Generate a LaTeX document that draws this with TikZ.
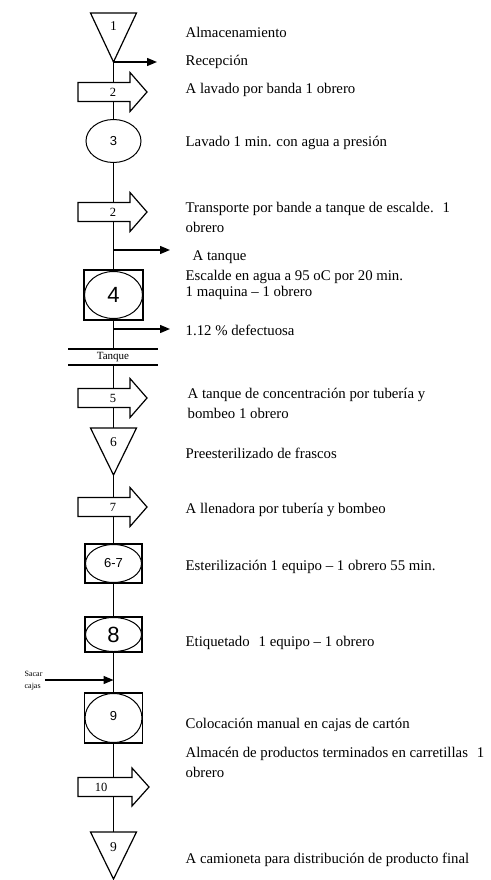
\documentclass[tikz,border=0pt]{standalone}
\usepackage{fontspec}
\setmainfont{Liberation Serif}
\setsansfont{Liberation Sans}
\usetikzlibrary{arrows.meta,shapes.geometric,backgrounds}
\newcommand{\flowarr}[3]{%
  \draw[shp] (78,#2-9.5) -- (130,#2-9.5) -- (130,#2-19.5) -- (147,#2) -- (130,#2+19.5) -- (130,#2+9.5) -- (78,#2+9.5) -- cycle;
  \node[num] (#1) at (113,#2) {#3};}
\begin{document}
\begin{tikzpicture}[x=1pt,y=-1pt,line width=1.3pt,
  shp/.style={draw,fill=white,line width=1.2pt},
  txt/.style={anchor=west,inner sep=0pt,font=\fontsize{14.8}{20}\selectfont,align=left},
  txtb/.style={anchor=west,inner sep=0pt,font=\fontsize{14.8}{16}\selectfont,align=left},
  num/.style={inner sep=0pt,font=\fontsize{12.5}{14}\selectfont},
  bignum/.style={inner sep=0pt,font=\sffamily\fontsize{22}{24}\selectfont},
  midnum/.style={inner sep=0pt,font=\sffamily\fontsize{13}{16}\selectfont},
  oval/.style={ellipse,draw,fill=white,inner sep=0pt,line width=1pt},
  boxx/.style={rectangle,draw,fill=white,inner sep=0pt,line width=1.2pt},
  link/.style={draw,line width=1.4pt},
  tip/.style={line width=1.4pt,-{Triangle[length=10pt,width=8pt]}}]
\useasboundingbox (0,0) rectangle (490,880);

% ---------- shapes ----------
% triangle 1
\draw[shp] (90.5,13) -- (136.5,13) -- (113.5,62) -- cycle;
\node[num,font=\fontsize{13.5}{14}\selectfont] (n1) at (113.5,26) {1};
\coordinate (t1) at (113.5,62);
\coordinate (r1) at (157,62);

% arrow 2
\flowarr{a2}{92}{2}

% circle 3
\node[oval,minimum width=55pt,minimum height=43pt] (c3) at (113.5,141) {};
\node[midnum] (n3) at (113.5,141) {3};

% arrow 2 (second)
\flowarr{a2b}{212}{2}

\coordinate (j1) at (113.5,250);
\coordinate (r2) at (170,250);

% box 4
\node[boxx,minimum width=59pt,minimum height=50pt] (b4) at (113.5,295) {};
\node[oval,minimum width=58pt,minimum height=47pt] (e4) at (113.5,295) {};
\node[bignum] (n4) at (113.5,295) {4};

\coordinate (j2) at (113.5,329);
\coordinate (r3) at (170,329);

% tanque
\coordinate (tq1) at (113.5,349);
\coordinate (tq2) at (113.5,365);
\draw (68,349) -- (158,349);
\draw (68,365) -- (158,365);
\node[inner sep=0pt,font=\fontsize{11}{12}\selectfont] (tq) at (113,357) {Tanque};

% arrow 5
\flowarr{a5}{398}{5}

% triangle 6
\draw[shp] (90.5,428) -- (136.5,428) -- (113.5,475) -- cycle;
\node[num,font=\fontsize{13.5}{14}\selectfont] (n6) at (113.5,442) {6};
\coordinate (t6a) at (113.5,428);
\coordinate (t6b) at (113.5,475);

% arrow 7
\flowarr{a7}{507}{7}

% box 6-7
\node[boxx,minimum width=57pt,minimum height=39pt] (b67) at (113.5,563.5) {};
\node[oval,minimum width=56pt,minimum height=38pt] (e67) at (113.5,563.5) {};
\node[midnum] (n67) at (113.5,563.5) {6-7};

% box 8
\node[boxx,minimum width=57pt,minimum height=35pt] (b8) at (113.5,634.5) {};
\node[oval,minimum width=56pt,minimum height=34pt] (e8) at (113.5,634.5) {};
\node[bignum] (n8) at (113.5,634.5) {8};

% sacar cajas
\node[anchor=west,inner sep=0pt,align=left,font=\fontsize{8}{12}\selectfont] (sac) at (24,681) {Sacar\\cajas};
\coordinate (s0) at (45,680);
\coordinate (j3) at (113.5,680);

% box 9
\node[boxx,minimum width=58pt,minimum height=50pt] (b9) at (113.5,718) {};
\node[oval,minimum width=57pt,minimum height=49pt] (e9) at (113.5,718) {};
\node[midnum] (n9) at (113.5,716) {9};

% arrow 10
\draw[shp] (78,777.5) -- (132,777.5) -- (132,768) -- (149,787) -- (132,806) -- (132,796.5) -- (78,796.5) -- cycle;
\node[num] (a10) at (101,787) {10};

% triangle 9
\draw[shp] (90.5,832) -- (136.5,832) -- (113.5,879) -- cycle;
\node[num,font=\fontsize{13.5}{14}\selectfont] (n9b) at (113.5,847) {9};
\coordinate (t9) at (113.5,832);

% ---------- connectors ----------
\begin{scope}[on background layer]
\draw[link] (t1) -- (c3.north);
\draw[link] (c3.south) -- (b4.north);
\draw[link] (b4.south) -- (tq1);
\draw[link] (tq2) -- (t6a);
\draw[link] (t6b) -- (b67.north);
\draw[link] (b67.south) -- (b8.north);
\draw[link] (b8.south) -- (b9.north);
\draw[link] (b9.south) -- (t9);
\end{scope}
\draw[tip] (t1) -- (r1);
\draw[tip] (j1) -- (r2);
\draw[tip] (j2) -- (r3);
\draw[tip] (s0) -- (j3);

% ---------- texts ----------
\node[txt] (l1) at (185,32) {Almacenamiento};
\node[txt] (l2) at (185,62) {Recepción};
\node[txt] (l3) at (185,90) {A lavado por banda 1 obrero};
\node[txt] (l4) at (185,143) {Lavado 1 min. con agua a presión};
\node[txt] (l5) at (185,217) {Transporte por bande a tanque de escalde.\hspace{0.6em}1\\obrero};
\node[txt] (l6) at (192,257) {A tanque};
\node[txtb] (l7) at (185,285) {Escalde en agua a 95 oC por 20 min.\\1 maquina – 1 obrero};
\node[txt] (l8) at (185,330) {1.12 \% defectuosa};
\node[txt] (l9) at (187,403) {A tanque de concentración por tubería y\\bombeo 1 obrero};
\node[txt] (l10) at (185,453) {Preesterilizado de frascos};
\node[txt] (l11) at (185,510) {A llenadora por tubería y bombeo};
\node[txt] (l12) at (185,567) {Esterilización 1 equipo – 1 obrero 55 min.};
\node[txt] (l13) at (185,643) {Etiquetado\hspace{0.6em}1 equipo – 1 obrero};
\node[txt] (l14) at (185,725) {Colocación manual en cajas de cartón};
\node[txt] (l15) at (185,762) {Almacén de productos terminados en carretillas\hspace{0.6em}1\\obrero};
\node[txt] (l16) at (185,860) {A camioneta para distribución de producto final};
\end{tikzpicture}
\end{document}
